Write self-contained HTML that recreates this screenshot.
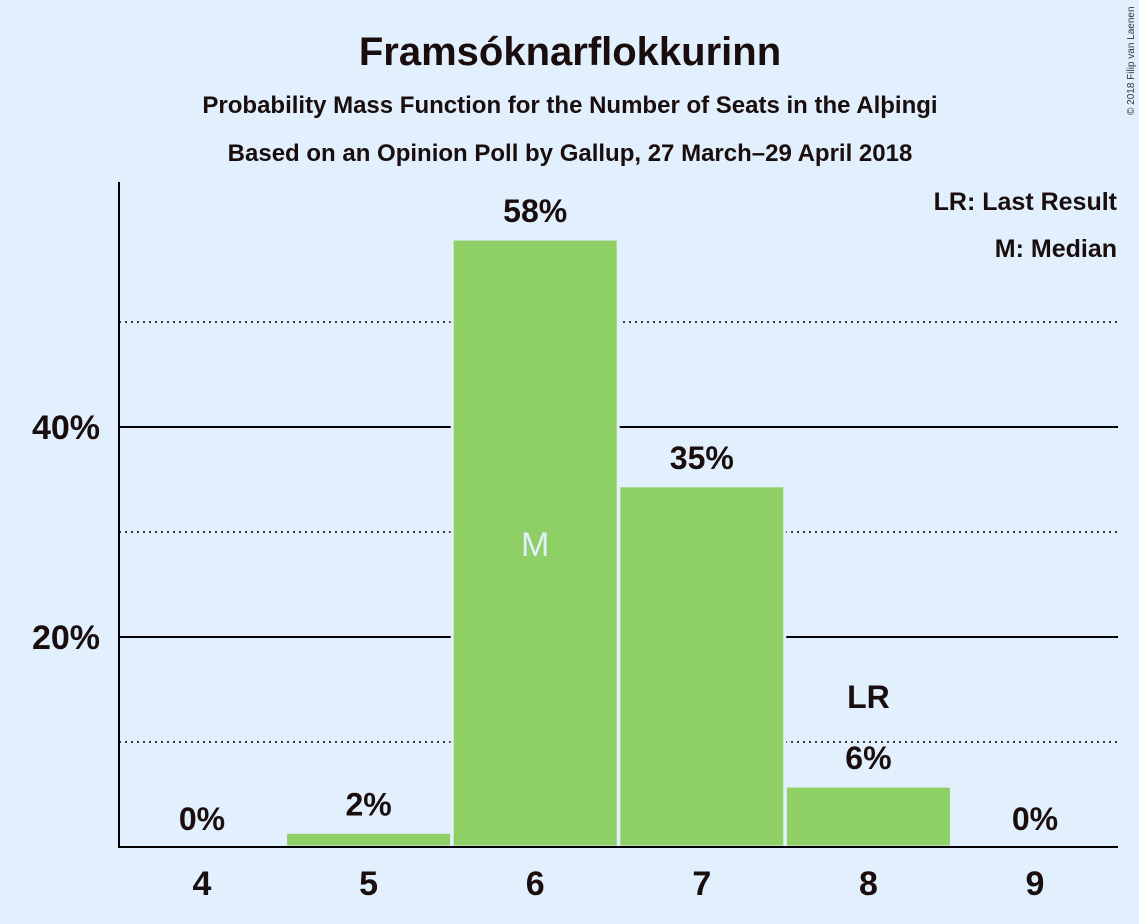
<!DOCTYPE html>
<html><head><meta charset="utf-8"><style>
body{margin:0;background:#e2f0fe;}
svg{display:block;font-family:"Liberation Sans",sans-serif;}
</style></head><body>
<svg width="1139" height="924" id="chart">
<rect width="1139" height="924" fill="#e2f0fe"/>
<text x="570" y="65" text-anchor="middle" font-size="40" font-weight="bold" fill="#1a0d0d">Framsóknarflokkurinn</text>
<text x="570" y="113" text-anchor="middle" font-size="24" font-weight="bold" fill="#1a0d0d">Probability Mass Function for the Number of Seats in the Alþingi</text>
<text x="570" y="161" text-anchor="middle" font-size="24" font-weight="bold" fill="#1a0d0d">Based on an Opinion Poll by Gallup, 27 March–29 April 2018</text>
<text x="1117" y="210" text-anchor="end" font-size="25" font-weight="bold" fill="#1a0d0d">LR: Last Result</text>
<text x="1117" y="257" text-anchor="end" font-size="25" font-weight="bold" fill="#1a0d0d">M: Median</text>
<text transform="translate(1134,115) rotate(-90)" font-size="10" fill="#333">© 2018 Filip van Laenen</text>
<g id="grid"></g><g id="bars"></g><g id="labels"></g>
<line x1="119" y1="182" x2="119" y2="848" stroke="#000" stroke-width="2"/>
<line x1="118" y1="847" x2="1118" y2="847" stroke="#000" stroke-width="2"/>
</svg>
<script>
const categories=[4,5,6,7,8,9];
const values=[0,1.4,57.9,34.4,5.8,0];
const valueLabels=["0%","2%","58%","35%","6%","0%"];
const yTicks=[20,40];
const yTickLabels=["20%","40%"];
const dottedTicks=[10,30,50];
const medianCat=6, lastResultCat=8;
const NS="http://www.w3.org/2000/svg";
const y=v=>847-v*10.5;
const x=c=>202+(c-4)*166.6;
function mk(t,a,p){const e=document.createElementNS(NS,t);for(const k in a)e.setAttribute(k,a[k]);p.appendChild(e);return e;}
const G=document.getElementById('grid'),B=document.getElementById('bars'),L=document.getElementById('labels');
dottedTicks.forEach(v=>{const l=mk('line',{x1:119,x2:1118,y1:y(v),y2:y(v),stroke:'#000','stroke-width':1.5,'stroke-dasharray':'2,4'},G);

});
yTicks.forEach((v,i)=>{const l=mk('line',{x1:119,x2:1118,y1:y(v),y2:y(v),stroke:'#000','stroke-width':2},G);


const t=mk('text',{x:100,y:y(v)+12,'text-anchor':'end','font-size':34,'font-weight':'bold',fill:'#1a0d0d'},L);t.textContent=yTickLabels[i];

});
categories.forEach((c,i)=>{
 const v=values[i];
 if(v>0){const r=mk('rect',{x:x(c)-83,y:y(v),width:166,height:847-y(v),fill:'#8ecf66',stroke:'#e2f0fe','stroke-width':3},B);
 
 }
 const t=mk('text',{x:x(c),y:y(v)-17,'text-anchor':'middle','font-size':32,'font-weight':'bold',fill:'#1a0d0d'},L);t.textContent=valueLabels[i];
 
 
 const xt=mk('text',{x:x(c),y:895,'text-anchor':'middle','font-size':34,'font-weight':'bold',fill:'#1a0d0d'},L);xt.textContent=c;
 
 
 if(c===medianCat){const m=mk('text',{x:x(c),y:y(v/2)+13,'text-anchor':'middle','font-size':34,fill:'#e2f0fe'},L);m.textContent='M';
 
 }
 if(c===lastResultCat){const m=mk('text',{x:x(c),y:y(v)-78,'text-anchor':'middle','font-size':32,'font-weight':'bold',fill:'#1a0d0d'},L);m.textContent='LR';
 
 }
});
</script>
</body></html>
